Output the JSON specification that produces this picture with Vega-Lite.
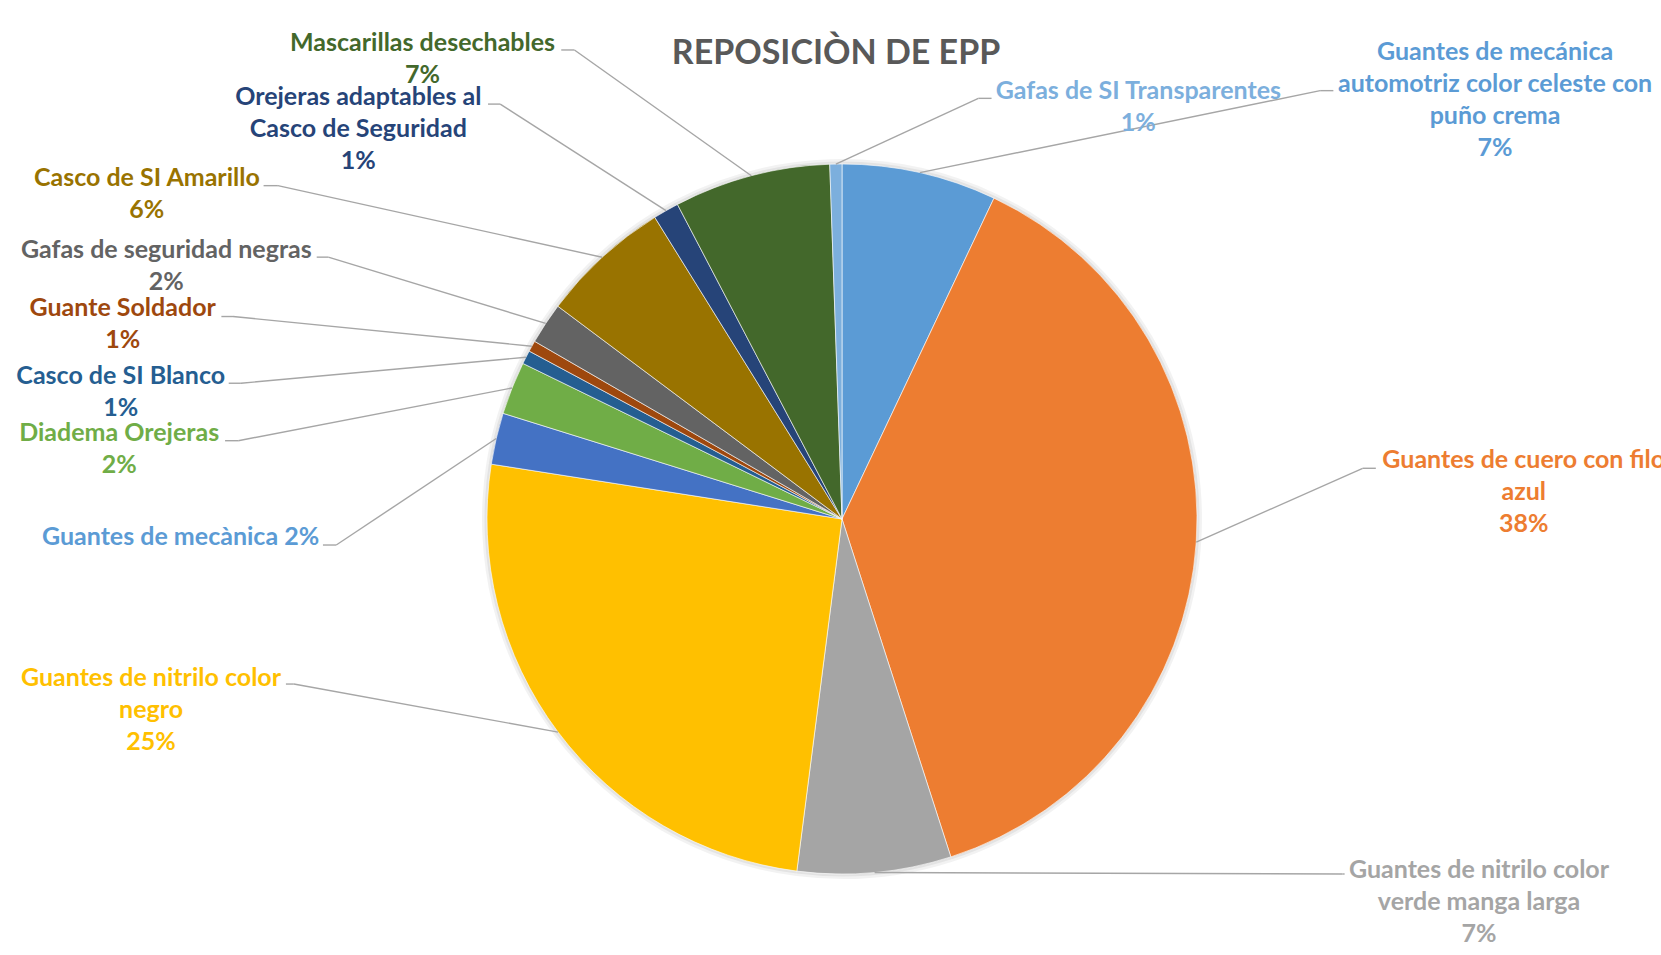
{
  "$schema": "https://vega.github.io/schema/vega-lite/v6.json",
  "autosize": {"type": "none"},
  "width": 1638,
  "height": 1038,
  "padding": {"left": 23, "top": 0, "right": 0, "bottom": -83},
  "background": "#FFFFFF",
  "config": {"view": {"stroke": null}, "font": "Lato"},
  "title": {
    "text": "REPOSICIÒN DE EPP",
    "font": "Lato",
    "fontSize": 34,
    "fontWeight": "bold",
    "color": "#595959",
    "anchor": "middle",
    "frame": "group",
    "orient": "bottom",
    "baseline": "middle",
    "offset": -984,
    "dx": -6
  },
  "params": [
    {
      "name": "lab",
      "value": {
        "Guantes de mecánica automotriz color celeste con puño crema": [575.2, -121, 400.3, -82, 413.5],
        "Guantes de cuero con filo azul": [327.5, -81.7, 166.4, -73.9, 179.6],
        "Guantes de nitrilo color verde manga larga": [604.4, -2.3, 468, 1.5, 470],
        "Guantes de nitrilo color negro": [-407.1, -54.6, -264.3, -48.1, -272.2],
        "Guantes de mecànica": [-315.7, 98.8, -160, 106.5, -173.3],
        "Diadema Orejeras": [-392.9, 45.2, -273.8, 52.7, -287],
        "Casco de SI Blanco": [-405.3, 18.9, -285.1, 26, -297.3],
        "Guante Soldador": [-409.2, -38.2, -298.9, -29.7, -310.5],
        "Gafas de seguridad negras": [-379.4, -73.8, -217.4, -66.3, -229],
        "Casco de SI Amarillo": [-455.3, -79.1, -324.3, -71.6, -338.6],
        "Orejeras adaptables al Casco de Seguridad": [-307.7, -113.4, -165.8, -106.6, -178],
        "Mascarillas desechables": [-328.8, -133, -176.9, -125.8, -190.1],
        "Gafas de SI Transparentes": [302.5, -73, 142.5, -65.7, 155.7]
      }
    }
  ],
  "data": {
    "values": [
      {"order": 1, "item": "Guantes de mecánica automotriz color celeste con puño crema", "value": 7.04, "label": "Guantes de mecánica\nautomotriz color celeste con\npuño crema\n7%"},
      {"order": 2, "item": "Guantes de cuero con filo azul", "value": 38.0, "label": "Guantes de cuero con filo\nazul\n38%"},
      {"order": 3, "item": "Guantes de nitrilo color verde manga larga", "value": 6.99, "label": "Guantes de nitrilo color\nverde manga larga\n7%"},
      {"order": 4, "item": "Guantes de nitrilo color negro", "value": 25.44, "label": "Guantes de nitrilo color\nnegro\n25%"},
      {"order": 5, "item": "Guantes de mecànica", "value": 2.34, "label": "Guantes de mecànica 2%"},
      {"order": 6, "item": "Diadema Orejeras", "value": 2.41, "label": "Diadema Orejeras\n2%"},
      {"order": 7, "item": "Casco de SI Blanco", "value": 0.62, "label": "Casco de SI Blanco\n1%"},
      {"order": 8, "item": "Guante Soldador", "value": 0.5, "label": "Guante Soldador\n1%"},
      {"order": 9, "item": "Gafas de seguridad negras", "value": 1.89, "label": "Gafas de seguridad negras\n2%"},
      {"order": 10, "item": "Casco de SI Amarillo", "value": 5.93, "label": "Casco de SI Amarillo\n6%"},
      {"order": 11, "item": "Orejeras adaptables al Casco de Seguridad", "value": 1.17, "label": "Orejeras adaptables al\nCasco de Seguridad\n1%"},
      {"order": 12, "item": "Mascarillas desechables", "value": 7.12, "label": "Mascarillas desechables\n7%"},
      {"order": 13, "item": "Gafas de SI Transparentes", "value": 0.55, "label": "Gafas de SI Transparentes\n1%"}
    ]
  },
  "layer": [
    {
      "mark": {"type": "arc", "outerRadius": 360, "color": "#000000", "opacity": 0.05},
      "encoding": {
        "theta": {"field": "value", "type": "quantitative", "stack": true},
        "order": {"field": "order", "type": "quantitative"}
      }
    },
    {
      "mark": {"type": "arc", "outerRadius": 357.5, "color": "#000000", "opacity": 0.06},
      "encoding": {
        "theta": {"field": "value", "type": "quantitative", "stack": true},
        "order": {"field": "order", "type": "quantitative"}
      }
    },
    {
      "mark": {"type": "arc", "outerRadius": 355, "stroke": "#FFFFFF", "strokeWidth": 0.6},
      "encoding": {
        "theta": {"field": "value", "type": "quantitative", "stack": true},
        "order": {"field": "order", "type": "quantitative"},
        "color": {
          "field": "item",
          "type": "nominal",
          "legend": null,
          "scale": {
            "domain": [
              "Guantes de mecánica automotriz color celeste con puño crema",
              "Guantes de cuero con filo azul",
              "Guantes de nitrilo color verde manga larga",
              "Guantes de nitrilo color negro",
              "Guantes de mecànica",
              "Diadema Orejeras",
              "Casco de SI Blanco",
              "Guante Soldador",
              "Gafas de seguridad negras",
              "Casco de SI Amarillo",
              "Orejeras adaptables al Casco de Seguridad",
              "Mascarillas desechables",
              "Gafas de SI Transparentes"
            ],
            "range": ["#5B9BD5", "#ED7D31", "#A5A5A5", "#FFC000", "#4472C4", "#70AD47", "#255E91", "#9E480E", "#636363", "#997300", "#264478", "#43682B", "#7CAFDD"]
          }
        }
      }
    },
    {
      "transform": [
        {"stack": "value", "groupby": [], "sort": [{"field": "order", "order": "ascending"}], "as": ["v0", "v1"]}
      ],
      "mark": {"type": "rule", "color": "#A6A6A6", "strokeWidth": 1.4},
      "encoding": {
        "x": {"value": {"expr": "width/2 + 355*sin(PI*(datum.v0+datum.v1)/100)"}},
        "y": {"value": {"expr": "height/2 - 355*cos(PI*(datum.v0+datum.v1)/100)"}},
        "x2": {"value": {"expr": "width/2 + 355*sin(PI*(datum.v0+datum.v1)/100) + lab[datum.item][2]"}},
        "y2": {"value": {"expr": "height/2 - 355*cos(PI*(datum.v0+datum.v1)/100) + lab[datum.item][3]"}}
      }
    },
    {
      "transform": [
        {"stack": "value", "groupby": [], "sort": [{"field": "order", "order": "ascending"}], "as": ["v0", "v1"]}
      ],
      "mark": {"type": "rule", "color": "#A6A6A6", "strokeWidth": 1.4},
      "encoding": {
        "x": {"value": {"expr": "width/2 + 355*sin(PI*(datum.v0+datum.v1)/100) + lab[datum.item][2]"}},
        "y": {"value": {"expr": "height/2 - 355*cos(PI*(datum.v0+datum.v1)/100) + lab[datum.item][3]"}},
        "x2": {"value": {"expr": "width/2 + 355*sin(PI*(datum.v0+datum.v1)/100) + lab[datum.item][4]"}},
        "y2": {"value": {"expr": "height/2 - 355*cos(PI*(datum.v0+datum.v1)/100) + lab[datum.item][3]"}}
      }
    },
    {
      "mark": {
        "type": "text",
        "radius": 355,
        "font": "Lato",
        "fontWeight": "bold",
        "fontSize": 25,
        "lineHeight": 32,
        "lineBreak": "\n",
        "align": "center",
        "baseline": "middle",
        "dx": {"expr": "lab[datum.item][0]"},
        "dy": {"expr": "lab[datum.item][1]"}
      },
      "encoding": {
        "theta": {"field": "value", "type": "quantitative", "stack": true},
        "order": {"field": "order", "type": "quantitative"},
        "text": {"field": "label", "type": "nominal"},
        "fill": {
          "field": "item",
          "type": "nominal",
          "legend": null,
          "scale": {
            "domain": [
              "Guantes de mecánica automotriz color celeste con puño crema",
              "Guantes de cuero con filo azul",
              "Guantes de nitrilo color verde manga larga",
              "Guantes de nitrilo color negro",
              "Guantes de mecànica",
              "Diadema Orejeras",
              "Casco de SI Blanco",
              "Guante Soldador",
              "Gafas de seguridad negras",
              "Casco de SI Amarillo",
              "Orejeras adaptables al Casco de Seguridad",
              "Mascarillas desechables",
              "Gafas de SI Transparentes"
            ],
            "range": ["#5B9BD5", "#ED7D31", "#A5A5A5", "#FFC000", "#5B9BD5", "#70AD47", "#255E91", "#9E480E", "#636363", "#997300", "#264478", "#43682B", "#7CAFDD"]
          }
        }
      }
    }
  ]
}
